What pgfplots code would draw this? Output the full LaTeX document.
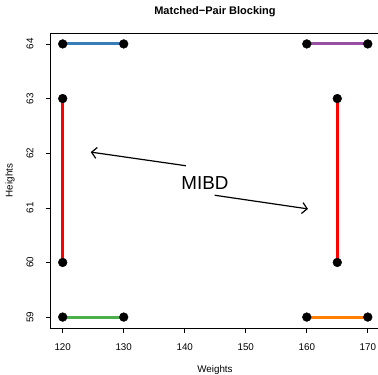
\documentclass[border=0pt]{standalone}
\usepackage{pgfplots}
\pgfplotsset{compat=1.18}
\usepackage{fontspec}
\setmainfont{Liberation Sans}
\usetikzlibrary{arrows.meta}
\definecolor{cblue}{HTML}{377EB8}
\definecolor{cpurple}{HTML}{984EA3}
\definecolor{cgreen}{HTML}{4DAF4A}
\definecolor{corange}{HTML}{FF7F00}
\begin{document}
\begin{tikzpicture}[x=1pt,y=1pt]
\begin{axis}[at={(50.5pt,47pt)}, anchor=south west, scale only axis,
  width=329.5pt, height=295pt,
  xmin=118, xmax=172, ymin=58.8, ymax=64.2,
  xtick={120,130,140,150,160,170}, ytick={59,60,61,62,63,64},
  tick align=outside, major tick length=5pt,
  tick style={black, line width=0.6pt},
  axis line style={line width=0.6pt},
  xtick pos=bottom, ytick pos=left,
  /pgf/number format/assume math mode=true,
  ticklabel style={font=\fontsize{9.8}{11}\selectfont},
  xticklabel style={yshift=-7pt},
  yticklabel style={xshift=-8.5pt, rotate=90, anchor=south},
  clip=false]
\addplot[cblue, line width=3pt] coordinates {(120,64) (130,64)};
\addplot[cpurple, line width=3pt] coordinates {(160,64) (170,64)};
\addplot[red, line width=3pt] coordinates {(120,63) (120,60)};
\addplot[red, line width=3pt] coordinates {(165,63) (165,60)};
\addplot[cgreen, line width=3pt] coordinates {(120,59) (130,59)};
\addplot[corange, line width=3pt] coordinates {(160,59) (170,59)};
\addplot[only marks, mark=*, mark size=4.4pt, black] coordinates {
(120,64) (130,64) (160,64) (170,64) (120,63) (120,60) (165,63) (165,60)
(120,59) (130,59) (160,59) (170,59)};
\addplot[black, line width=1.2pt, -{Straight Barb[length=5pt, width=11pt, line width=1.2pt]}] coordinates {(140.2,61.77) (124.6,62.02)};
\addplot[black, line width=1.2pt, -{Straight Barb[length=5pt, width=11pt, line width=1.2pt]}] coordinates {(144.9,61.23) (160.2,60.98)};
\node[font=\fontsize{18.8}{20}\selectfont] at (axis cs:143.3,61.45) {MIBD};
\end{axis}
\node[font=\bfseries\fontsize{11}{13}\selectfont] at (215pt,363pt) {Matched−Pair Blocking};
\node[font=\fontsize{9.8}{11}\selectfont] at (215pt,5pt) {Weights};
\node[font=\fontsize{9.8}{11}\selectfont, rotate=90] at (10pt,194.5pt) {Heights};
\pgfresetboundingbox
\path (0,0) rectangle (378pt,375pt);
\end{tikzpicture}
\end{document}
